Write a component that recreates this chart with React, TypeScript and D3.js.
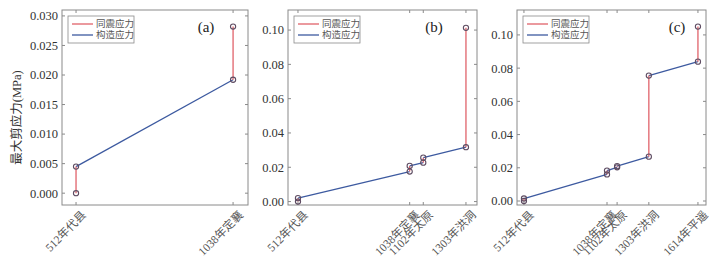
import React from 'react';
import * as d3 from 'd3';

// events (year + name)
const eventYears = [512, 1038, 1102, 1303, 1614];
const eventNames = ['512年代县', '1038年定襄', '1102年太原', '1303年洪洞', '1614年平遥'];

// stress just before each quake (end of tectonic loading) and just after (plus coseismic)
const preA = [0, 0.0192];
const postA = [0.0045, 0.0282];
const preB = [0, 0.0175, 0.0227, 0.0317];
const postB = [0.002, 0.0208, 0.0256, 0.1013];
const preC = [0, 0.016, 0.0203, 0.0267, 0.0839];
const postC = [0.0015, 0.0183, 0.021, 0.0755, 0.105];

const yTicksA = [0, 0.005, 0.01, 0.015, 0.02, 0.025, 0.03];
const yTicksBC = [0, 0.02, 0.04, 0.06, 0.08, 0.1];

const legendItems = ['同震应力', '构造应力'];
const panelTags = ['(a)', '(b)', '(c)'];

const RED = '#e0626a';
const BLUE = '#3d5aa0';
const FRAME = '#8a8a8a';
const MARK = '#5e4c62';
const SERIF = "'Liberation Serif', serif";
const CJK = "'Liberation Serif', 'Noto Sans CJK SC', serif";

const top = 10;
const bottom = 205;

const panels = [
  { x0: 62, x1: 248, xDom: [465, 1088], yDom: [-0.002, 0.031], yTicks: yTicksA, fmt: '.3f', pre: preA, post: postA, tagDx: 42 },
  { x0: 288, x1: 477, xDom: [465, 1355], yDom: [-0.002, 0.1117], yTicks: yTicksBC, fmt: '.2f', pre: preB, post: postB, tagDx: 43 },
  { x0: 517, x1: 706, xDom: [468, 1665], yDom: [-0.0024, 0.115], yTicks: yTicksBC, fmt: '.2f', pre: preC, post: postC, tagDx: 29 },
];

const Panel = ({ p, i }: { p: any; i: number }) => {
  const n = p.pre.length;
  const years = eventYears.slice(0, n);
  const names = eventNames.slice(0, n);
  const x = d3.scaleLinear().domain(p.xDom).range([p.x0, p.x1]);
  const y = d3.scaleLinear().domain(p.yDom).range([bottom, top]);
  const fmt = d3.format(p.fmt);

  const blue = d3.line<[number, number]>().x(d => x(d[0])).y(d => y(d[1]));
  const bluePts: [number, number][][] = [];
  for (let k = 0; k < n - 1; k++) {
    bluePts.push([[years[k], p.post[k]], [years[k + 1], p.pre[k + 1]]]);
  }

  const lx = p.x0 + 6;
  const ly = top + 6;

  return (
    <g>
      {/* frame */}
      <rect x={p.x0} y={top} width={p.x1 - p.x0} height={bottom - top} fill="none" stroke={FRAME} strokeWidth={1} />
      {/* y ticks */}
      {p.yTicks.map((t: number) => (
        <g key={t}>
          <line x1={p.x0} x2={p.x0 + 3} y1={y(t)} y2={y(t)} stroke={FRAME} />
          <line x1={p.x1} x2={p.x1 - 3} y1={y(t)} y2={y(t)} stroke={FRAME} />
          <text x={p.x0 - 4} y={y(t)} dy="0.35em" textAnchor="end" fontFamily={SERIF} fontSize={12.5} fill="#333">
            {fmt(t)}
          </text>
        </g>
      ))}
      {/* x ticks + labels */}
      {years.map((yr: number, k: number) => (
        <g key={yr}>
          <line x1={x(yr)} x2={x(yr)} y1={bottom} y2={bottom - 3} stroke={FRAME} />
          <line x1={x(yr)} x2={x(yr)} y1={top} y2={top + 3} stroke={FRAME} />
          <text
            transform={`translate(${x(yr) + 5},${bottom + 5}) rotate(-45)`}
            textAnchor="end"
            dy="0.7em"
            fontFamily={CJK}
            fontSize={11.5}
            fill="#555"
          >
            {names[k]}
          </text>
        </g>
      ))}
      {/* tectonic loading */}
      {bluePts.map((seg, k) => (
        <path key={k} d={blue(seg) || ''} fill="none" stroke={BLUE} strokeWidth={1.3} />
      ))}
      {/* coseismic jumps */}
      {years.map((yr: number, k: number) => (
        <line key={yr} x1={x(yr)} x2={x(yr)} y1={y(p.pre[k])} y2={y(p.post[k])} stroke={RED} strokeWidth={1.3} />
      ))}
      {/* markers */}
      {years.map((yr: number, k: number) => (
        <g key={yr}>
          <circle cx={x(yr)} cy={y(p.pre[k])} r={2.6} fill="none" stroke={MARK} strokeWidth={1.1} />
          <circle cx={x(yr)} cy={y(p.post[k])} r={2.6} fill="none" stroke={MARK} strokeWidth={1.1} />
        </g>
      ))}
      {/* legend */}
      <rect x={lx} y={ly} width={66} height={27} fill="#fff" stroke={FRAME} strokeWidth={0.8} />
      {legendItems.map((name, k) => (
        <g key={name}>
          <line x1={lx + 4} x2={lx + 25} y1={ly + 8 + k * 11} y2={ly + 8 + k * 11} stroke={k === 0 ? RED : BLUE} strokeWidth={1.3} />
          <text x={lx + 28} y={ly + 8 + k * 11} dy="0.35em" fontFamily={CJK} fontSize={9.5} fill="#555">
            {name}
          </text>
        </g>
      ))}
      <text x={p.x1 - p.tagDx} y={32} textAnchor="middle" fontFamily={SERIF} fontSize={15} fill="#222">
        {panelTags[i]}
      </text>
    </g>
  );
};

const App = () => {
  return (
    <svg width={723} height={272} style={{ position: 'absolute', left: 0, top: 0, background: '#fff' }}>
      <rect width={723} height={272} fill="#fff" />
      {panels.map((p, i) => (
        <Panel key={i} p={p} i={i} />
      ))}
      <text
        transform={`translate(17,${(top + bottom) / 2 + 10}) rotate(-90)`}
        textAnchor="middle"
        dy="0.35em"
        fontFamily={CJK}
        fontSize={12.5}
        fill="#333"
      >
        最大剪应力(MPa)
      </text>
    </svg>
  );
};

export default App;
